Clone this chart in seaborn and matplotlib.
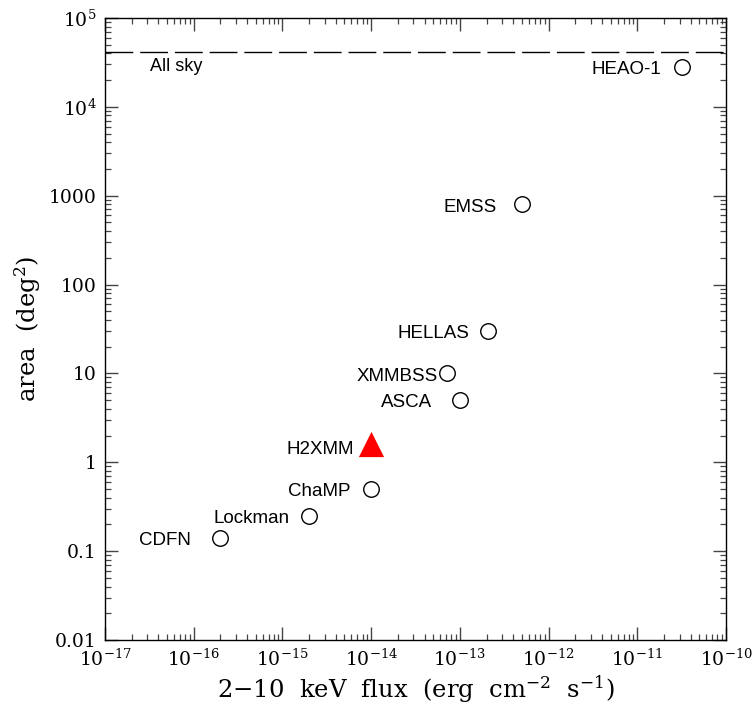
import numpy as np
import pandas as pd
import matplotlib
matplotlib.use("Agg")
import matplotlib.pyplot as plt
import seaborn as sns

# ---- data ----
surveys = ["HEAO-1", "EMSS", "HELLAS", "XMMBSS", "ASCA", "ChaMP", "Lockman", "CDFN"]
flux = [3.2e-11, 5e-13, 2.1e-13, 7.2e-14, 1e-13, 1e-14, 2e-15, 2e-16]
area = [2.8e4, 800, 30, 10, 5, 0.5, 0.25, 0.14]
h2xmm_name = "H2XMM"
h2xmm_flux = [1e-14]
h2xmm_area = [1.6]
allsky_area = 41253
allsky_label = "All sky"
xtick_vals = [1e-17, 1e-16, 1e-15, 1e-14, 1e-13, 1e-12, 1e-11, 1e-10]
xtick_labels = [r"$10^{-17}$", r"$10^{-16}$", r"$10^{-15}$", r"$10^{-14}$",
                r"$10^{-13}$", r"$10^{-12}$", r"$10^{-11}$", r"$10^{-10}$"]
ytick_vals = [0.01, 0.1, 1, 10, 100, 1000, 1e4, 1e5]
ytick_labels = ["0.01", "0.1", "1", "10", "100", "1000", r"$10^4$", r"$10^5$"]

# label offsets (points) to the left of each marker
label_dx = [-15, -18, -14, -7, -20, -15, -14, -21]
h2xmm_dx = -12

sns.set_style("ticks")
plt.rcParams["font.family"] = ["DejaVu Serif"]
plt.rcParams["mathtext.fontset"] = "dejavuserif"
plt.rcParams["text.color"] = "black"
plt.rcParams["axes.labelcolor"] = "black"
plt.rcParams["xtick.labelcolor"] = "black"
plt.rcParams["ytick.labelcolor"] = "black"

fig = plt.figure(figsize=(7.53, 7.06), dpi=100)
ax = fig.add_axes([105/753, 66/706, 621/753, 622/706])

df = pd.DataFrame({"survey": surveys, "flux": flux, "area": area})
sns.scatterplot(data=df, x="flux", y="area", ax=ax, marker="o", s=125,
                facecolor="white", edgecolor="black", linewidth=1.0, zorder=3)
sns.scatterplot(x=h2xmm_flux, y=h2xmm_area, ax=ax, marker="^", s=330,
                color="red", edgecolor="red", linewidth=0, zorder=3)

ax.set_xscale("log")
ax.set_yscale("log")
ax.set_xlim(1e-17, 1e-10)
ax.set_ylim(0.01, 1e5)

line = ax.axhline(allsky_area, color="black", lw=1.0)
line.set_dashes([20, 5])
ax.annotate(allsky_label, xy=(3.2e-17, allsky_area), xytext=(0, -10),
            textcoords="offset points", ha="left", va="center",
            fontsize=13, family=["Liberation Sans"], color="black")

for name, fx, ar, dx in zip(surveys, flux, area, label_dx):
    ax.annotate(name, xy=(fx, ar), xytext=(dx, -2), textcoords="offset points",
                ha="right", va="center", fontsize=13.5, family=["Liberation Sans"],
                color="black")
ax.annotate(h2xmm_name, xy=(h2xmm_flux[0], h2xmm_area[0]), xytext=(h2xmm_dx, -4),
            textcoords="offset points", ha="right", va="center",
            fontsize=13.5, family=["Liberation Sans"], color="black")

ax.set_xticks(xtick_vals)
ax.set_xticklabels(xtick_labels)
ax.set_yticks(ytick_vals)
ax.set_yticklabels(ytick_labels)
ax.xaxis.set_minor_locator(matplotlib.ticker.LogLocator(base=10, subs=np.arange(2, 10), numticks=20))
ax.yaxis.set_minor_locator(matplotlib.ticker.LogLocator(base=10, subs=np.arange(2, 10), numticks=20))
ax.xaxis.set_minor_formatter(matplotlib.ticker.NullFormatter())
ax.yaxis.set_minor_formatter(matplotlib.ticker.NullFormatter())
ax.tick_params(which="both", direction="in", top=True, right=True, color="#444444")
ax.tick_params(which="major", length=9.5, width=1.0, labelsize=13.5, pad=6)
ax.tick_params(which="minor", length=4.5, width=0.9)
for s in ax.spines.values():
    s.set_visible(True)
    s.set_linewidth(1.0)
    s.set_color("black")

ax.set_xlabel(r"2$-$10  keV  flux  (erg  cm$^{-2}$  s$^{-1}$)", fontsize=17.5, labelpad=3)
ax.set_ylabel(r"area  (deg$^2$)", fontsize=17.5, labelpad=4)

fig.savefig("out.png", dpi=100)
